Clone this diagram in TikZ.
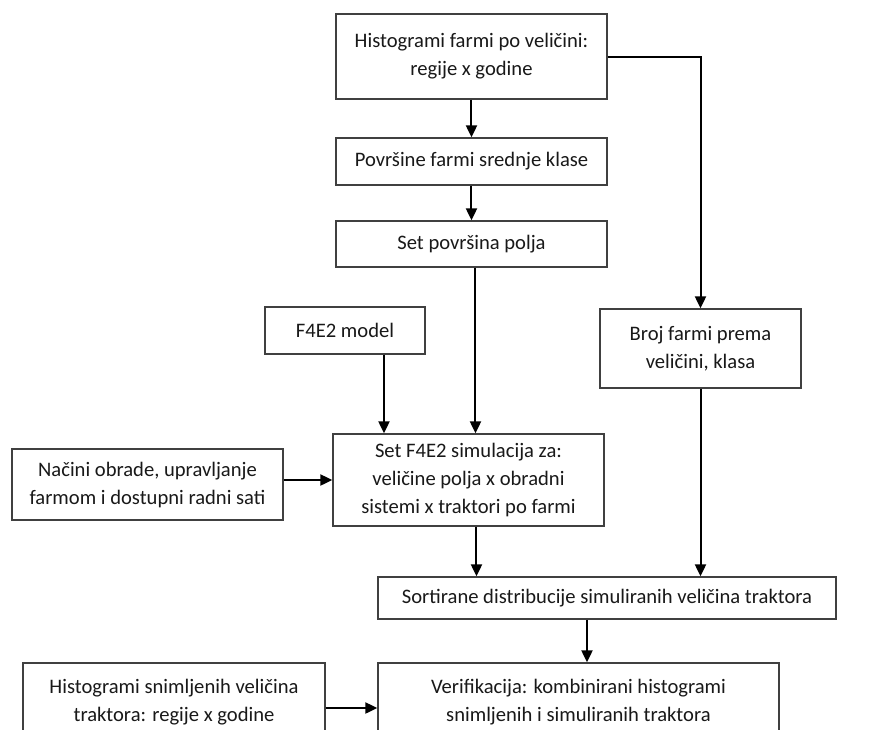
\documentclass[tikz,border=0pt]{standalone}
\usepackage{fontspec}
\setmainfont{Carlito}
\usetikzlibrary{arrows.meta}
\begin{document}
\begin{tikzpicture}[
    box/.style={
        rectangle, draw=black!75, fill=white,
        line width=1.3pt, inner sep=0pt,
        align=center, text=black!90,
        font=\fontsize{20.6pt}{28pt}\selectfont
    },
    arr/.style={-{Triangle[length=12pt,width=11pt]}, line width=2pt, black},
]
\path[use as bounding box, clip] (-471.5pt,56.5pt) rectangle (406.5pt,-672.5pt);

% Nodes
\node[box, minimum width=271pt, minimum height=85pt] (hist) {Histogrami farmi po veličini:\\regije x godine};
\node[box, below of=hist, node distance=105pt, minimum width=271pt, minimum height=47pt] (povrsine) {Površine farmi srednje klase};
\node[box, below of=povrsine, node distance=82.5pt, minimum width=271pt, minimum height=46pt] (polja) {Set površina polja};
\node[box, below of=polja, node distance=86.5pt, xshift=-126.5pt, minimum width=160pt, minimum height=47pt] (model) {F4E2 model};
\node[box, below of=polja, node distance=104.5pt, xshift=229pt, minimum width=201pt, minimum height=79pt] (broj) {Broj farmi prema\\veličini, klasa};

% Simulation
\node[box, below of=polja, node distance=236pt, xshift=-3pt, minimum width=271pt, minimum height=92pt] (sim) {Set F4E2 simulacija za:\\veličine polja x obradni\\sistemi x traktori po farmi};
\node[box, left of=sim, node distance=321pt, yshift=-4.5pt, minimum width=271pt, minimum height=71pt] (nacini) {Načini obrade, upravljanje\\farmom i dostupni radni sati};

% Output
\node[box, below of=sim, node distance=118pt, xshift=138.5pt, minimum width=458pt, minimum height=42pt] (sort) {Sortirane distribucije simuliranih veličina traktora};
\node[box, below of=sort, node distance=104pt, xshift=-28.5pt, minimum width=401pt, minimum height=78pt] (verif) {Verifikacija: kombinirani histogrami\\snimljenih i simuliranih traktora};
\node[box, left of=verif, node distance=404.5pt, minimum width=302pt, minimum height=78pt] (snim) {Histogrami snimljenih veličina\\traktora: regije x godine};

% Arrows
\draw[arr] (hist) -- (povrsine);
\draw[arr] (povrsine) -- (polja);
\draw[arr] (hist.east) -| (broj.north);
\draw[arr] ([xshift=4pt]polja.south) -- ([xshift=4pt]polja.south |- sim.north);
\draw[arr] ([xshift=39pt]model.south) -- ([xshift=39pt]model.south |- sim.north);
\draw[arr] (nacini.east |- sim.west) -- (sim.west);
\draw[arr] ([xshift=8pt]sim.south) -- ([xshift=8pt]sim.south |- sort.north);
\draw[arr] (broj.south) -- (broj.south |- sort.north);
\draw[arr] ([xshift=-20pt]sort.south) -- ([xshift=-20pt]sort.south |- verif.north);
\draw[arr] ([yshift=-6pt]snim.east) -- ([yshift=-6pt]snim.east -| verif.west);

\end{tikzpicture}
\end{document}
